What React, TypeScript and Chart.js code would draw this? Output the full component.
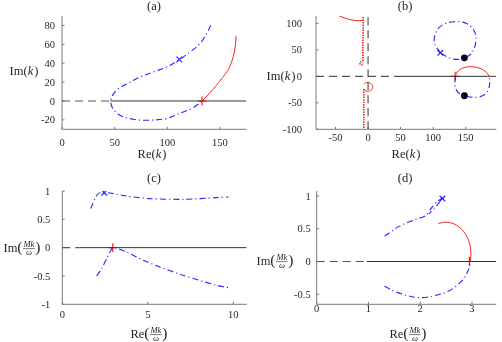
import React, { useEffect, useRef } from "react";
import { Chart, registerables } from "chart.js";
Chart.register(...registerables);

const W = 502;
const H = 342;
const SERIF = '"Liberation Serif", "DejaVu Serif", serif';
const TXT = "#262626";
const AXIS = "#7a7a7a";
const BLUE = "rgba(25,25,255,0.95)";
const RED = "#ff1f1f";
const DASHC = "#555555";
const SOLIDC = "#333333";

// ---------- Panel (a): Im(k) vs Re(k)
const aBlueRe = [141.2, 137.4, 131, 121.6, 111.4, 99.4, 86.7, 74, 64.6, 53.5, 48.2, 46.3, 48, 55, 67.7, 80.4, 99.4, 112, 124, 132.7];
const aBlueIm = [80.2, 71.4, 60.8, 51.9, 43.9, 36, 30.7, 25.4, 20, 13, 6.5, 0, -7.5, -15.1, -19.4, -20.4, -18.6, -13, -7.5, -0.5];
const aRedRe = [133, 140, 146.6, 152.5, 157.6, 161, 163.3, 164.8, 165.2];
const aRedIm = [0, 8, 16.6, 25, 32.5, 41, 50.5, 60, 69];
const aCrossRe = [111.4];
const aCrossIm = [43.9];
const aPlusRe = [133];
const aPlusIm = [0];
const aDashRe = [0, 46];
const aSolidRe = [46, 175];
const aXTicks = [0, 50, 100, 150];
const aYTicks = [-20, 0, 20, 40, 60, 80];

// ---------- Panel (b): Im(k) vs Re(k), wide view
const bUpLoopRe = [111.1, 102.1, 103.6, 113.7, 131.2, 151.2, 163.7, 165.2, 158.7, 148.6, 133.6, 121.2, 111.1];
const bUpLoopIm = [44.5, 62.3, 81.1, 96.8, 103, 100, 84.2, 62.3, 43.4, 35.1, 32.1, 37, 44.5];
const bLowLoopRe = [134.5, 133.7, 133.7, 138.7, 147.7, 166.2, 180.2, 186.2, 186.2];
const bLowLoopIm = [0, -7, -19.6, -30.9, -36.6, -39.6, -33.4, -19.6, -0.7];
const bRedArcRe = [133.7, 138.7, 148.7, 161.2, 173.7, 182.2, 186.2];
const bRedArcIm = [0, 10.6, 17, 18.1, 14.4, 6.9, 0];
const bRedTopRe = [-44, -29, -14, -7.5];
const bRedTopIm = [113.8, 107.5, 105, 106];
const bRedUpRe = [-7.5, -7.5, -8, -8, -8, -9, -11.5, -12.5, -11, -8.5, -7.8];
const bRedUpIm = [112, 90, 60, 40, 30.8, 28, 27, 24.5, 21.8, 22, 25];
const bRedLowLoopRe = [-6.5, -1.5, 5.1, 7.1, 3.6, -3, -6.5];
const bRedLowLoopIm = [-14.5, -11.3, -14.5, -20.8, -27.2, -27.7, -24];
const bRedLowTailRe = [-6.5, -6.5, -6.7, -6.5];
const bRedLowTailIm = [-24, -38.5, -70, -101];
const bCrossRe = [111];
const bCrossIm = [44.5];
const bPlusRe = [133.7];
const bPlusIm = [0];
const bDotRe = [148, 148];
const bDotIm = [35, -36.6];
const bDashRe = [-80, 46];
const bSolidRe = [46, 197];
const bVertIm = [-100, 114];
const bXTicks = [-50, 0, 50, 100, 150];
const bYTicks = [-100, -50, 0, 50, 100];

// ---------- Panel (c): Im(Mk/w) vs Re(Mk/w)
const cUpRe = [1.66, 1.91, 2.1, 2.4, 2.79, 3.77, 5.13, 7.08, 9.03, 9.71];
const cUpIm = [0.69, 0.865, 0.953, 0.975, 0.965, 0.91, 0.865, 0.853, 0.883, 0.894];
const cLowRe = [2.01, 2.3, 2.6, 2.89, 2.98, 3.77, 4.74, 5.71, 7.08, 9.03, 9.81];
const cLowIm = [-0.5, -0.37, -0.19, -0.02, 0.01, -0.078, -0.224, -0.342, -0.49, -0.666, -0.713];
const cCrossRe = [2.45];
const cCrossIm = [0.97];
const cPlusRe = [2.95];
const cPlusIm = [0];
const cDashRe = [0, 1];
const cSolidRe = [1, 10.78];
const cXTicks = [0, 5, 10];
const cYTicks = [-1, -0.5, 0, 0.5, 1];

// ---------- Panel (d): Im(Mk/w) vs Re(Mk/w)
const dUpRe = [1.31, 1.6, 1.91, 2.11, 2.2, 2.32, 2.43, 2.46, 2.36, 2.25, 2.17];
const dUpIm = [0.387, 0.54, 0.642, 0.7, 0.8, 0.91, 0.97, 0.99, 0.89, 0.79, 0.73];
const dLowRe = [1.31, 1.53, 1.91, 2.16, 2.54, 2.8, 2.92, 2.97];
const dLowIm = [-0.378, -0.465, -0.546, -0.54, -0.454, -0.3, -0.148, -0.02];
const dRedRe = [2.35, 2.51, 2.7, 2.86, 2.95, 2.98, 2.97];
const dRedIm = [0.58, 0.6, 0.555, 0.437, 0.284, 0.13, 0];
const dCrossRe = [2.43];
const dCrossIm = [0.96];
const dPlusRe = [2.95];
const dPlusIm = [0];
const dDashRe = [0, 0.97];
const dSolidRe = [0.97, 3.47];
const dXTicks = [0, 1, 2, 3];
const dYTicks = [-0.5, 0, 0.5, 1];

function pts(xs: number[], ys: number[]) {
  return xs.map((x, i) => ({ x, y: ys[i] }));
}
function zeros(n: number) {
  return new Array(n).fill(0);
}
function curve(xs: number[], ys: number[], color: string, width: number, dash: number[] = [], tension = 0.35) {
  return {
    data: pts(xs, ys),
    showLine: true,
    borderColor: color,
    backgroundColor: color,
    borderWidth: width,
    borderDash: dash,
    pointRadius: 0,
    pointHoverRadius: 0,
    tension,
    fill: false,
  };
}
function marker(xs: number[], ys: number[], style: string, color: string, radius: number, fillColor?: string) {
  return {
    data: pts(xs, ys),
    showLine: false,
    pointStyle: style,
    pointRadius: radius,
    pointHoverRadius: radius,
    borderColor: color,
    backgroundColor: fillColor ?? color,
    pointBorderWidth: 1.2,
    borderWidth: 1.2,
  };
}

const DD = [6, 3, 1.2, 3];
const DASH = [8, 5];
const DOT = [1.5, 1];

type LabelSpec = { pre: string; frac: boolean; x: number; y: number };
type Panel = {
  key: string;
  area: { l: number; t: number; r: number; b: number };
  xr: [number, number];
  yr: [number, number];
  xTicks: number[];
  yTicks: number[];
  yGap: number;
  xOff: number;
  title: { text: string; x: number; y: number };
  xLabel: LabelSpec;
  yLabel: LabelSpec;
  datasets: any[];
};

const panels: Panel[] = [
  {
    key: "a",
    area: { l: 62, t: 16, r: 246.3, b: 129.3 },
    xr: [0, 175],
    yr: [-30, 90],
    xTicks: aXTicks,
    yTicks: aYTicks,
    yGap: 7,
    xOff: 13.4,
    title: { text: "(a)", x: 154, y: 6 },
    xLabel: { pre: "Re", frac: false, x: 152, y: 154 },
    yLabel: { pre: "Im", frac: false, x: 24, y: 71 },
    datasets: [
      curve(aDashRe, zeros(2), DASHC, 1.2, DASH, 0),
      curve(aSolidRe, zeros(2), SOLIDC, 1, [], 0),
      curve(aBlueRe, aBlueIm, BLUE, 1.1, DD),
      curve(aRedRe, aRedIm, RED, 1),
      marker(aCrossRe, aCrossIm, "crossRot", BLUE, 4),
      marker(aPlusRe, aPlusIm, "cross", RED, 4.5),
    ],
  },
  {
    key: "b",
    area: { l: 316, t: 16, r: 500.3, b: 129.3 },
    xr: [-80, 197],
    yr: [-100, 114],
    xTicks: bXTicks,
    yTicks: bYTicks,
    yGap: 14,
    xOff: 8.4,
    title: { text: "(b)", x: 405, y: 6 },
    xLabel: { pre: "Re", frac: false, x: 406, y: 154 },
    yLabel: { pre: "Im", frac: false, x: 281, y: 76 },
    datasets: [
      curve(bDashRe, zeros(2), DASHC, 1.2, DASH, 0),
      curve(bSolidRe, zeros(2), SOLIDC, 1, [], 0),
      curve(zeros(2), bVertIm, DASHC, 1.2, DASH, 0),
      curve(bUpLoopRe, bUpLoopIm, BLUE, 1.1, DD),
      curve(bLowLoopRe, bLowLoopIm, BLUE, 1.1, DD),
      curve(bRedArcRe, bRedArcIm, RED, 1),
      curve(bRedTopRe, bRedTopIm, RED, 1),
      curve(bRedUpRe, bRedUpIm, RED, 1.6, DOT),
      curve(bRedLowLoopRe, bRedLowLoopIm, RED, 1),
      curve(bRedLowTailRe, bRedLowTailIm, RED, 1.6, DOT),
      marker(bCrossRe, bCrossIm, "crossRot", BLUE, 4),
      marker(bPlusRe, bPlusIm, "cross", RED, 4.5),
      marker(bDotRe, bDotIm, "circle", "#000", 2.8, "#000"),
    ],
  },
  {
    key: "c",
    area: { l: 62.3, t: 191, r: 246.7, b: 304.3 },
    xr: [0, 10.78],
    yr: [-1, 1],
    xTicks: cXTicks,
    yTicks: cYTicks,
    yGap: 12,
    xOff: 10,
    title: { text: "(c)", x: 154, y: 178 },
    xLabel: { pre: "Re", frac: true, x: 149, y: 334 },
    yLabel: { pre: "Im", frac: true, x: 22, y: 248 },
    datasets: [
      curve(cDashRe, zeros(2), DASHC, 1.2, DASH, 0),
      curve(cSolidRe, zeros(2), SOLIDC, 1, [], 0),
      curve(cUpRe, cUpIm, BLUE, 1.1, DD, 0.25),
      curve(cLowRe, cLowIm, BLUE, 1.1, DD, 0.25),
      marker(cCrossRe, cCrossIm, "crossRot", BLUE, 4),
      marker(cPlusRe, cPlusIm, "cross", RED, 4.5),
    ],
  },
  {
    key: "d",
    area: { l: 316.7, t: 191, r: 500.3, b: 304.3 },
    xr: [0, 3.47],
    yr: [-0.653, 1.076],
    xTicks: dXTicks,
    yTicks: dYTicks,
    yGap: 6,
    xOff: 4,
    title: { text: "(d)", x: 405, y: 178 },
    xLabel: { pre: "Re", frac: true, x: 408, y: 334 },
    yLabel: { pre: "Im", frac: true, x: 275, y: 261 },
    datasets: [
      curve(dDashRe, zeros(2), DASHC, 1.2, DASH, 0),
      curve(dSolidRe, zeros(2), SOLIDC, 1, [], 0),
      curve(dUpRe, dUpIm, BLUE, 1.1, DD, 0.25),
      curve(dLowRe, dLowIm, BLUE, 1.1, DD),
      curve(dRedRe, dRedIm, RED, 1),
      marker(dCrossRe, dCrossIm, "crossRot", BLUE, 4),
      marker(dPlusRe, dPlusIm, "cross", RED, 4.5),
    ],
  },
];

function drawLabel(ctx: CanvasRenderingContext2D, lab: LabelSpec) {
  ctx.save();
  ctx.fillStyle = TXT;
  ctx.strokeStyle = TXT;
  ctx.textAlign = "left";
  ctx.textBaseline = "alphabetic";
  const base = lab.y + 4;
  if (!lab.frac) {
    const fN = `12.5px ${SERIF}`;
    const fI = `italic 12.5px ${SERIF}`;
    ctx.font = fN;
    const w1 = ctx.measureText(lab.pre + "(").width;
    const w3 = ctx.measureText(")").width;
    ctx.font = fI;
    const w2 = ctx.measureText("k").width + 1;
    let x = lab.x - (w1 + w2 + w3) / 2;
    ctx.font = fN;
    ctx.fillText(lab.pre + "(", x, base);
    x += w1;
    ctx.font = fI;
    ctx.fillText("k", x, base);
    x += w2;
    ctx.font = fN;
    ctx.fillText(")", x, base);
  } else {
    const fN = `12.5px ${SERIF}`;
    const fP = `15.5px ${SERIF}`;
    const fF = `italic 8.5px ${SERIF}`;
    ctx.font = fN;
    const wPre = ctx.measureText(lab.pre).width;
    ctx.font = fP;
    const wP1 = ctx.measureText("(").width;
    const wP2 = ctx.measureText(")").width;
    ctx.font = fF;
    const wF = Math.max(ctx.measureText("Mk").width, ctx.measureText("ω").width) + 2;
    let x = lab.x - (wPre + wP1 + wF + wP2) / 2;
    ctx.font = fN;
    ctx.fillText(lab.pre, x, base);
    x += wPre;
    ctx.font = fP;
    ctx.fillText("(", x, lab.y + 4.3);
    x += wP1;
    ctx.font = fF;
    ctx.textAlign = "center";
    ctx.fillText("Mk", x + wF / 2, lab.y - 1.3);
    ctx.fillText("ω", x + wF / 2, lab.y + 7);
    ctx.lineWidth = 0.6;
    ctx.beginPath();
    ctx.moveTo(x + 0.5, lab.y + 0.6);
    ctx.lineTo(x + wF - 0.5, lab.y + 0.6);
    ctx.stroke();
    ctx.textAlign = "left";
    x += wF;
    ctx.font = fP;
    ctx.fillText(")", x, lab.y + 4.3);
  }
  ctx.restore();
}

function makeOverlay(p: Panel) {
  return {
    id: "overlay_" + p.key,
    beforeDatasetsDraw(chart: any) {
      const ctx: CanvasRenderingContext2D = chart.ctx;
      const { left, right, top, bottom } = chart.chartArea;
      const xs = chart.scales.x;
      const ys = chart.scales.y;
      ctx.save();
      ctx.strokeStyle = AXIS;
      ctx.lineWidth = 1;
      ctx.beginPath();
      ctx.moveTo(left, top);
      ctx.lineTo(left, bottom);
      ctx.lineTo(right, bottom);
      ctx.stroke();
      ctx.beginPath();
      for (const v of p.xTicks) {
        const px = xs.getPixelForValue(v);
        ctx.moveTo(px, bottom);
        ctx.lineTo(px, bottom - 2.5);
      }
      for (const v of p.yTicks) {
        const py = ys.getPixelForValue(v);
        ctx.moveTo(left, py);
        ctx.lineTo(left + 2.5, py);
      }
      ctx.stroke();
      ctx.restore();
    },
    afterDraw(chart: any) {
      const ctx: CanvasRenderingContext2D = chart.ctx;
      const { left, bottom } = chart.chartArea;
      const xs = chart.scales.x;
      const ys = chart.scales.y;
      ctx.save();
      ctx.fillStyle = TXT;
      ctx.font = `10.5px ${SERIF}`;
      ctx.textBaseline = "alphabetic";
      ctx.textAlign = "center";
      for (const v of p.xTicks) {
        ctx.fillText(String(v), xs.getPixelForValue(v), bottom + p.xOff + 3.6);
      }
      ctx.textAlign = "right";
      for (const v of p.yTicks) {
        ctx.fillText(String(v), left - p.yGap, ys.getPixelForValue(v) + 3.6);
      }
      ctx.font = `12.5px ${SERIF}`;
      ctx.textAlign = "center";
      ctx.fillText(p.title.text, p.title.x, p.title.y + 4);
      ctx.restore();
      drawLabel(ctx, p.xLabel);
      drawLabel(ctx, p.yLabel);
    },
  };
}

function PanelChart({ p }: { p: Panel }) {
  const ref = useRef<HTMLCanvasElement | null>(null);
  useEffect(() => {
    if (!ref.current) return;
    const chart = new Chart(ref.current, {
      type: "scatter",
      data: { datasets: p.datasets as any },
      options: {
        animation: false,
        responsive: false,
        devicePixelRatio: 1,
        events: [],
        layout: {
          padding: { left: p.area.l, top: p.area.t, right: W - p.area.r, bottom: H - p.area.b },
        },
        plugins: { legend: { display: false }, tooltip: { enabled: false }, title: { display: false } },
        scales: {
          x: { type: "linear", display: false, min: p.xr[0], max: p.xr[1] },
          y: { type: "linear", display: false, min: p.yr[0], max: p.yr[1] },
        },
      } as any,
      plugins: [makeOverlay(p)],
    });
    return () => chart.destroy();
  }, [p]);
  return (
    <canvas
      ref={ref}
      width={W}
      height={H}
      style={{ position: "absolute", left: 0, top: 0, width: W, height: H }}
    />
  );
}

export default function App() {
  return (
    <div style={{ position: "fixed", left: 0, top: 0, width: W, height: H, background: "#fff" }}>
      {panels.map((p) => (
        <PanelChart key={p.key} p={p} />
      ))}
    </div>
  );
}
